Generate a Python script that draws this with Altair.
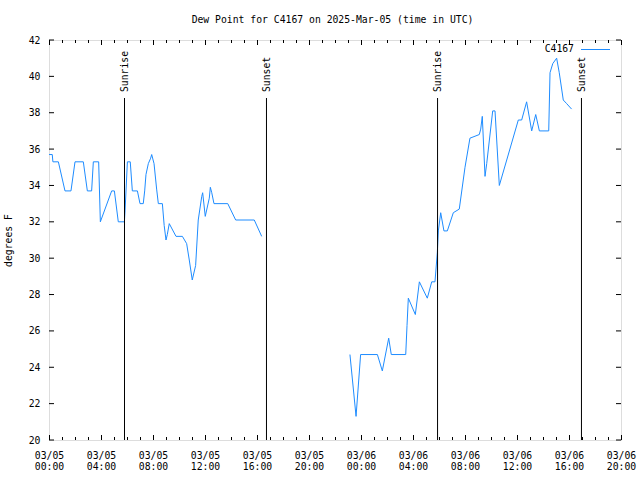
import altair as alt
import pandas as pd

# ---- data ----
day1_hours = [0.0, 0.25, 0.3, 0.72, 1.23, 1.69, 2.0, 2.64, 2.95, 3.28, 3.41, 3.82, 3.95,
              4.82, 5.03, 5.33, 5.8, 5.85, 6.03, 6.25, 6.41, 6.8, 7.0, 7.25, 7.36, 7.46,
              7.64, 7.82, 7.9, 8.08, 8.28, 8.41, 8.72, 8.86, 9.0, 9.1, 9.25, 9.77, 10.26,
              10.59, 10.79, 11.02, 11.28, 11.48, 11.75, 11.82, 12.02, 12.33, 12.41, 12.52,
              12.69, 13.75, 14.36, 15.79, 16.36]
day1_values = [35.7, 35.7, 35.3, 35.3, 33.7, 33.7, 35.3, 35.3, 33.7, 33.7, 35.3, 35.3, 32.0,
               33.7, 33.7, 32.0, 32.0, 32.6, 35.3, 35.3, 33.7, 33.7, 33.0, 33.0, 33.7, 34.6,
               35.2, 35.5, 35.7, 35.2, 33.8, 33.0, 33.0, 31.8, 31.0, 31.3, 31.9, 31.2, 31.2,
               30.8, 29.9, 28.8, 29.6, 32.1, 33.4, 33.6, 32.3, 33.3, 33.9, 33.6,
               33.0, 33.0, 32.1, 32.1, 31.2]

day2_hours = [23.15, 23.62, 23.97, 25.26, 25.64, 26.13, 26.33, 27.44, 27.54, 27.64, 28.18,
              28.49, 29.1, 29.44, 29.69, 29.87, 29.95, 30.13, 30.38, 30.64, 31.1, 31.56,
              32.0, 32.38, 33.1, 33.21, 33.33, 33.54, 33.67, 34.13, 34.31, 34.64, 35.21,
              36.1, 36.36, 36.74, 37.13, 37.44, 37.72, 38.44, 38.54, 38.75, 39.05, 39.25,
              39.56, 39.82, 40.2]
day2_values = [24.7, 21.3, 24.7, 24.7, 23.8, 25.6, 24.7, 24.7, 26.3, 27.8, 26.9,
               28.7, 27.8, 28.7, 28.7, 30.3, 31.5, 32.5, 31.5, 31.5, 32.5, 32.7,
               35.0, 36.6, 36.8, 37.1, 37.8, 34.5, 35.2, 38.1, 38.1, 34.0, 35.4,
               37.6, 37.6, 38.6, 37.0, 37.9, 37.0, 37.0, 40.2, 40.7, 41.0, 40.2,
               38.7, 38.5, 38.2]

sun_hours = [5.77, 16.69, 29.85, 40.92]
sun_labels = ["Sunrise", "Sunset", "Sunrise", "Sunset"]

x_major = [0, 4, 8, 12, 16, 20, 24, 28, 32, 36, 40, 44]
x_minor = [1, 2, 3, 5, 6, 7, 9, 10, 11, 13, 14, 15, 17, 18, 19, 21, 22, 23, 25, 26, 27,
           29, 30, 31, 33, 34, 35, 37, 38, 39, 41, 42, 43]
y_major = [20, 22, 24, 26, 28, 30, 32, 34, 36, 38, 40, 42]

series_name = "C4167"
title_text = "Dew Point for C4167 on 2025-Mar-05 (time in UTC)"

FONT = "DejaVu Sans Mono"
FS = 9.75
LINE_COLOR = "#1e8cff"
W, H = 572, 400

# ---- tables ----
line_df = pd.DataFrame({
    "h": day1_hours + day2_hours,
    "v": day1_values + day2_values,
    "seg": ["a"] * len(day1_hours) + ["b"] * len(day2_hours),
})
sun_df = pd.DataFrame({"h": sun_hours, "label": sun_labels})
xmaj_df = pd.DataFrame({"h": x_major})
xmin_df = pd.DataFrame({"h": x_minor})
ymaj_df = pd.DataFrame({"v": y_major})

xscale = alt.Scale(domain=[0, 44], nice=False, zero=False)
yscale = alt.Scale(domain=[20, 42], nice=False, zero=False)

xaxis = alt.Axis(
    values=x_major, title=None, grid=False, ticks=False, domain=False,
    labelFont=FONT, labelFontSize=FS, labelColor="black", labelPadding=10,
    labelLineHeight=11, labelAlign="center", labelOverlap=False, labelFlush=False,
    labelExpr="['03/0' + (5 + floor(datum.value / 24)), "
              "(datum.value % 24 < 10 ? '0' : '') + (datum.value % 24) + ':00']",
)
yaxis = alt.Axis(
    values=y_major, tickCount=12, title="degrees F", grid=False, ticks=False, domain=False,
    labelFont=FONT, labelFontSize=FS, labelColor="black", labelPadding=9,
    labelOverlap=False, labelFlush=False,
    titleFont=FONT, titleFontSize=FS, titleFontWeight="normal", titleColor="black",
    titleX=-41, titleY=H / 2, titleAngle=270, titleAlign="center", titleBaseline="middle",
)

X = alt.X("h:Q", scale=xscale, axis=xaxis)
Y = alt.Y("v:Q", scale=yscale, axis=yaxis)

line = alt.Chart(line_df).mark_line(color=LINE_COLOR, strokeWidth=1, interpolate="linear").encode(
    x=X, y=Y, detail="seg:N", order="h:Q"
)

sun_rules = alt.Chart(sun_df).mark_rule(color="black", strokeWidth=1, xOffset=0.5).encode(
    x=X, y=alt.datum(20, scale=yscale, axis=yaxis), y2=alt.datum(38.81)
)
sun_text = alt.Chart(sun_df).mark_text(
    angle=270, align="left", baseline="middle", font=FONT, fontSize=FS, color="black", dy=1
).encode(x=X, y=alt.datum(39.14, scale=yscale, axis=yaxis), text="label:N")

def xticks(df, length):
    bot = alt.Chart(df).mark_rule(color="black", strokeWidth=1, xOffset=0.5).encode(
        x=X, y=alt.value(H), y2=alt.value(H - length))
    top = alt.Chart(df).mark_rule(color="black", strokeWidth=1, xOffset=0.5).encode(
        x=X, y=alt.value(0), y2=alt.value(length))
    return [bot, top]

yt_left = alt.Chart(ymaj_df).mark_rule(color="black", strokeWidth=1).encode(
    y=Y, x=alt.value(0), x2=alt.value(5))
yt_right = alt.Chart(ymaj_df).mark_rule(color="black", strokeWidth=1).encode(
    y=Y, x=alt.value(W), x2=alt.value(W - 5))

legend_df = pd.DataFrame({"name": [series_name]})
legend_text = alt.Chart(legend_df).mark_text(
    align="right", baseline="middle", font=FONT, fontSize=FS, color="black"
).encode(x=alt.value(525), y=alt.value(9), text="name:N")
legend_line = alt.Chart(legend_df).mark_rule(color=LINE_COLOR, strokeWidth=1, yOffset=0.5).encode(
    x=alt.value(532), x2=alt.value(561), y=alt.value(9))

title_df = pd.DataFrame({"t": [title_text]})
title_mark = alt.Chart(title_df).mark_text(
    align="center", baseline="middle", font=FONT, fontSize=FS, color="black"
).encode(x=alt.value(283.5), y=alt.value(-20), text="t:N")

layers = [line, sun_rules, sun_text] + xticks(xmaj_df, 5) + xticks(xmin_df, 3) + \
         [yt_left, yt_right, legend_text, legend_line, title_mark]

chart = alt.layer(*layers).properties(
    width=W, height=H,
    autosize=alt.AutoSizeParams(type="none"),
    padding={"left": 49, "top": 40, "right": 19, "bottom": 40},
).configure_view(stroke="black", strokeWidth=1).configure(background="white")

chart.save("out.html", embed_options={"renderer": "svg", "actions": False})
